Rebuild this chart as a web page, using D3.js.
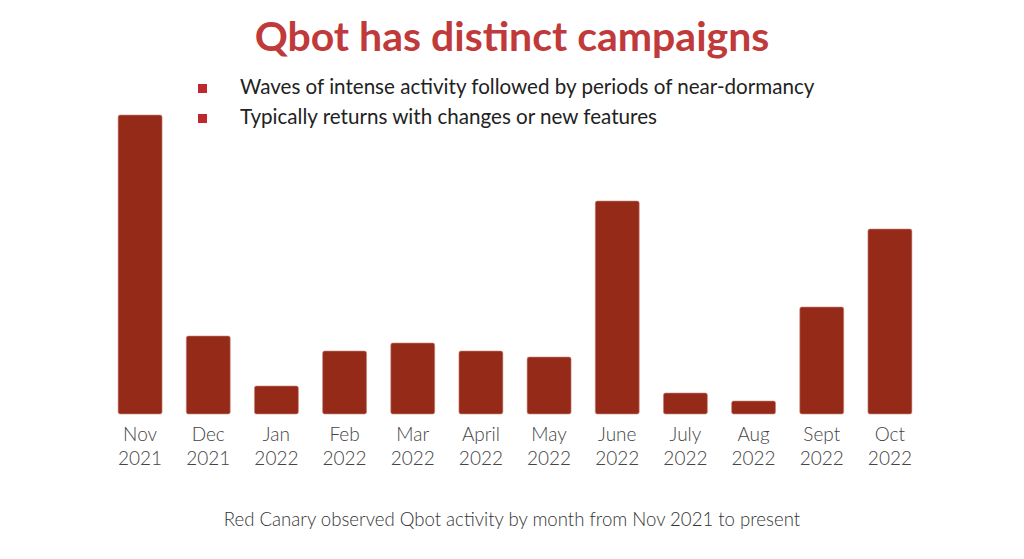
<!DOCTYPE html>
<html><head><meta charset="utf-8">
<script src="https://cdn.jsdelivr.net/npm/d3@7"></script>
<style>body{margin:0;background:#fff}svg{display:block}</style>
</head><body>
<script>
const months = ["Nov","Dec","Jan","Feb","Mar","April","May","June","July","Aug","Sept","Oct"];
const years = ["2021","2021","2022","2022","2022","2022","2022","2022","2022","2022","2022","2022"];
const activity = [299, 78, 28, 63, 71, 63, 57, 213, 21, 13, 107, 185];
const bullets = ["Waves of intense activity followed by periods of near-dormancy","Typically returns with changes or new features"];
const titleText = "Qbot has distinct campaigns";
const captionText = "Red Canary observed Qbot activity by month from Nov 2021 to present";

const W = 1024, H = 559;
const svg = d3.select("body").append("svg").attr("width", W).attr("height", H);

const x = d3.scaleBand().domain(d3.range(months.length)).range([106, 924]).paddingInner(0.355).paddingOuter(0.1775);
const y = d3.scaleLinear().domain([0, 300]).range([414, 114]);

svg.append("text").attr("x", 512).attr("y", 51).attr("text-anchor","middle")
  .attr("font-family","Lato, 'Open Sans', sans-serif").attr("font-weight","bold").attr("font-size",41)
  .attr("fill","#c0393b").text(titleText);

const lg = svg.append("g");
bullets.forEach((b,i)=>{
  lg.append("rect").attr("x",198).attr("y",84+30*i).attr("width",9).attr("height",9).attr("fill","#c0282f");
  lg.append("text").attr("x",240).attr("y",94+30*i).attr("font-family","Lato, sans-serif").attr("font-size",20.6)
    .attr("fill","#222").text(b);
});

svg.append("g").selectAll("rect").data(activity).join("rect")
  .attr("x",(d,i)=>x(i)).attr("width",x.bandwidth())
  .attr("y",d=>y(d)).attr("height",d=>y(0)-y(d))
  .attr("rx",2).attr("fill","#952a18").attr("stroke","#c98a80").attr("stroke-width",0.6);

const ax = svg.append("g").attr("font-family","Lato, sans-serif").attr("font-size",19).attr("font-weight",300).attr("fill","#444");
months.forEach((m,i)=>{
  const cx = x(i)+x.bandwidth()/2;
  ax.append("text").attr("x",cx).attr("y",441).attr("text-anchor","middle").text(m);
  ax.append("text").attr("x",cx).attr("y",465).attr("text-anchor","middle").text(years[i]);
});

svg.append("text").attr("x",512).attr("y",526).attr("text-anchor","middle")
  .attr("font-family","Lato, sans-serif").attr("font-size",18.6).attr("font-weight",300).attr("fill","#333").text(captionText);
</script>
</body></html>
